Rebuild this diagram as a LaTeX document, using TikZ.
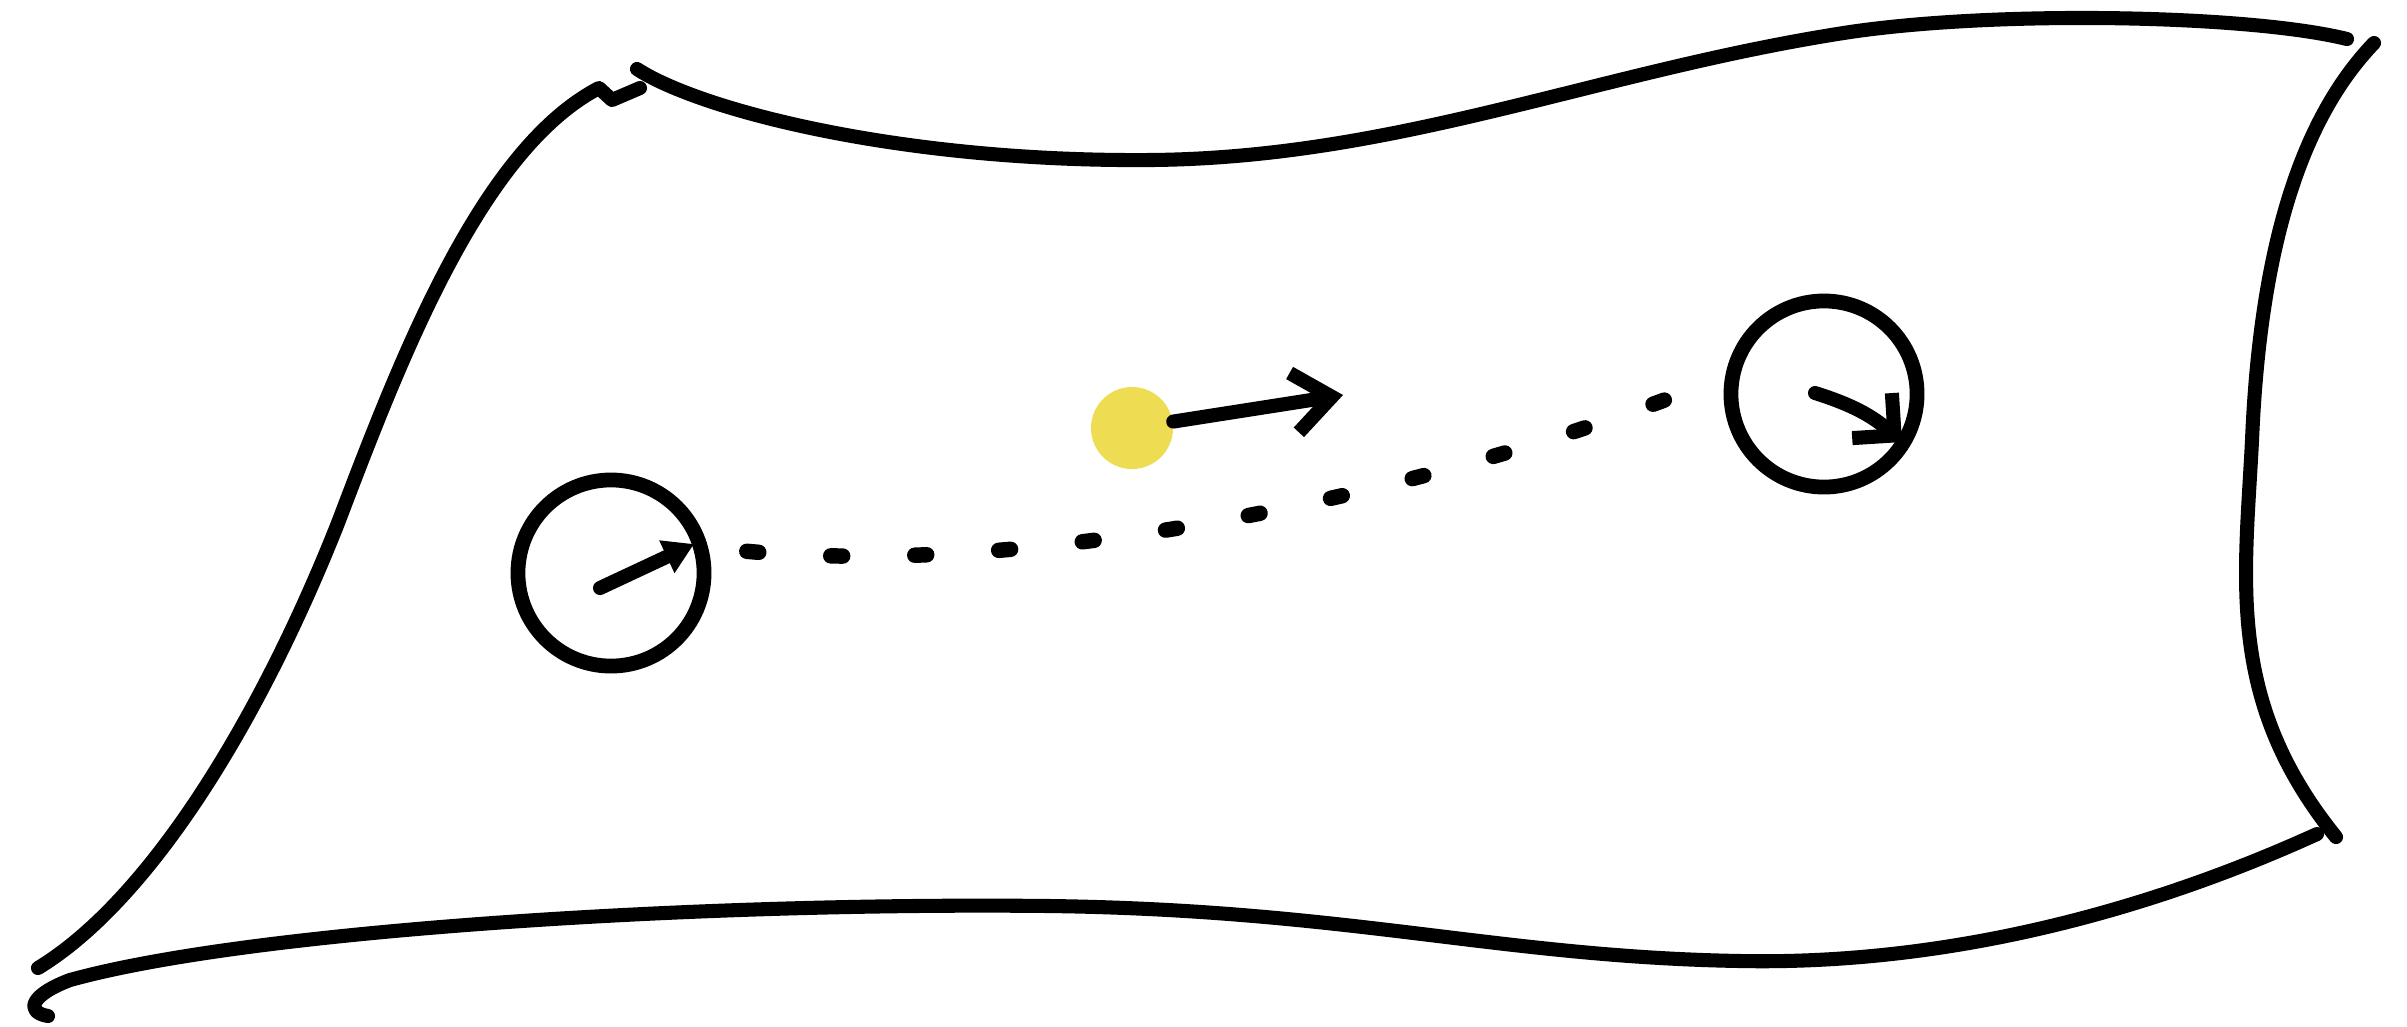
\documentclass[tikz,border=0pt]{standalone}
\usepackage{tikz}
\usetikzlibrary{arrows.meta}
\definecolor{spark}{HTML}{EEDC52}

\begin{document}
\begin{tikzpicture}[x=0.01cm,y=-0.01cm,
  edge/.style={line width=4pt,line cap=round,line join=round},
  ball/.style={circle,draw,line width=4.2pt,minimum size=1.86cm,inner sep=0pt},
  trail/.style={line width=4.4pt,line cap=round,dash pattern=on 0.12cm off 0.72cm,dash phase=0.45cm},
  pointer/.style={line width=4pt,line cap=round,line join=round}]
\useasboundingbox (0,0) rectangle (2407,1026);
% Sheet outline
\draw[edge] (38,968) .. controls (150,900) and (260,720) .. (338,523)
  .. controls (400,360) and (480,150) .. (599,88) -- (612,100) -- (640,88);
\draw[edge] (637,69) .. controls (700,110) and (900,162) .. (1150,160)
  .. controls (1400,158) and (1600,70) .. (1850,32)
  .. controls (2000,10) and (2250,15) .. (2347,39);
\draw[edge] (2374,43) .. controls (2300,120) and (2260,250) .. (2252,440)
  .. controls (2245,580) and (2225,700) .. (2336,837);
\draw[edge] (2317,834) .. controls (2150,910) and (1950,965) .. (1741,961)
  .. controls (1500,957) and (1350,910) .. (1050,906)
  .. controls (700,902) and (250,930) .. (70,980)
  .. controls (30,995) and (25,1012) .. (48,1016);
% Two charts and the dotted path between them
\node[ball] (leftball) at (611,573) {};
\node[ball] (rightball) at (1824,394) {};
\draw[trail] (leftball.15) .. controls (1000,585) and (1420,500) .. (rightball.170);
\coordinate (ltail) at (600,588);
\coordinate (lhead) at (694,544);
\draw[pointer,-{Triangle[length=0.3cm,width=0.34cm]}] (ltail) -- (lhead);
\coordinate (rtail) at (1815,393);
\coordinate (rhead) at (1902,442);
\draw[pointer,-{Straight Barb[length=0.3cm,width=0.6cm]}] (rtail) to[bend left=12] (rhead);
% Moving point
\node[circle,fill=spark,minimum size=0.82cm,inner sep=0pt] (dot) at (1132,428) {};
\coordinate (dotend) at (1343,395);
\draw[pointer,-{Straight Barb[length=0.38cm,width=0.6cm]}] (dot) -- (dotend);
\end{tikzpicture}
\end{document}
